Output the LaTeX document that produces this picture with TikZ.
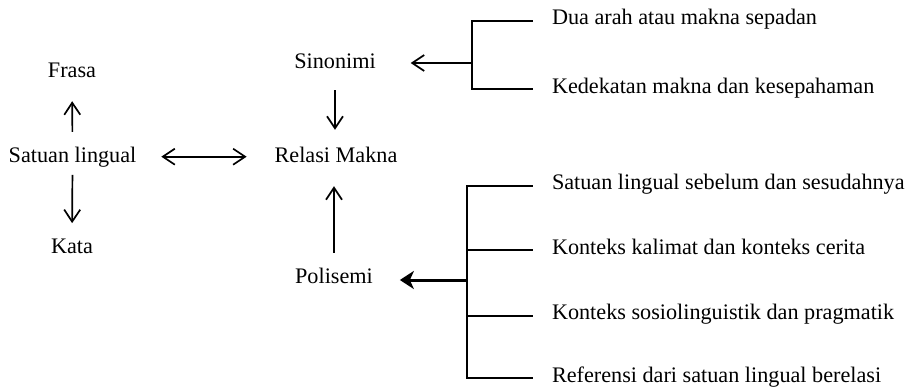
\documentclass[tikz,border=0pt]{standalone}
\usepackage{fontspec}
\setmainfont{Liberation Serif}
\usetikzlibrary{arrows.meta}
\begin{document}
\begin{tikzpicture}[x=1pt,y=-1pt,
  lbl/.style={inner sep=0pt,outer sep=0pt,font=\fontsize{22.2}{26}\selectfont},
  item/.style={lbl,anchor=west,text height=13pt,text depth=5pt},
  arr/.style={line width=1.7pt,-{Straight Barb[length=12pt,width=16pt,line width=1.7pt]}},
  dbl/.style={line width=1.7pt,{Straight Barb[length=12pt,width=16pt,line width=1.7pt]}-{Straight Barb[length=12pt,width=16pt,line width=1.7pt]}},
  thick arr/.style={line width=3pt,-{Stealth[length=14pt,width=18pt,inset=4pt]}},
  brk/.style={line width=2pt}]
\useasboundingbox (0,0) rectangle (908,388);
% main labels
\node[lbl,anchor=base] (frasa) at (72,77) {Frasa};
\node[lbl,anchor=base] (sat) at (72.5,162) {Satuan lingual};
\node[lbl,anchor=base] (kata) at (72,253) {Kata};
\node[lbl,anchor=base] (sino) at (335,68) {Sinonimi};
\node[lbl,anchor=base] (rel) at (336,162) {Relasi Makna};
\node[lbl,anchor=base] (poli) at (334,283) {Polisemi};
% list items
\node[item] (d1) at (552,20.7) {Dua arah atau makna sepadan};
\node[item] (d2) at (552,89.3) {Kedekatan makna dan kesepahaman};
\node[item] (p1) at (552,185.7) {Satuan lingual sebelum dan sesudahnya};
\node[item] (p2) at (552,250) {Konteks kalimat dan konteks cerita};
\node[item] (p3) at (552,315.7) {Konteks sosiolinguistik dan pragmatik};
\node[item] (p4) at (552,378.3) {Referensi dari satuan lingual berelasi};
% junctions
\coordinate (sj) at (472,63);
\coordinate (pj) at (467,280);
% arrows around Satuan lingual
\draw[arr,shorten <=14.8pt,shorten >=24pt] (sat.north) -- (frasa.south);
\draw[arr,shorten <=8.2pt,shorten >=15.3pt] (sat.south) -- (kata.north);
\draw[dbl] ([xshift=25pt]sat.east) -- ([xshift=-28pt]sat.east -| rel.west);
% arrows into Relasi Makna
\draw[arr,shorten <=22pt,shorten >=16.8pt] (sino.south) -- (sino.south |- rel.north);
\draw[arr,shorten <=15pt,shorten >=24pt] (poli.north) -- (poli.north |- rel.south);
% Sinonimi bracket
\draw[brk] (sj) |- ([xshift=-19pt]d1.west);
\draw[brk] (sj) |- ([xshift=-19pt]d2.west);
\draw[arr,shorten >=35pt] (sj) -- (sino.east |- sj);
% Polisemi bracket
\draw[brk] (pj) |- ([xshift=-19pt]p1.west);
\draw[brk] (pj) |- ([xshift=-19pt]p2.west);
\draw[brk] (pj) |- ([xshift=-19pt]p3.west);
\draw[brk] (pj) |- ([xshift=-19pt]p4.west);
\draw[thick arr,shorten >=27pt] (pj) -- (poli.east |- pj);
\end{tikzpicture}
\end{document}
